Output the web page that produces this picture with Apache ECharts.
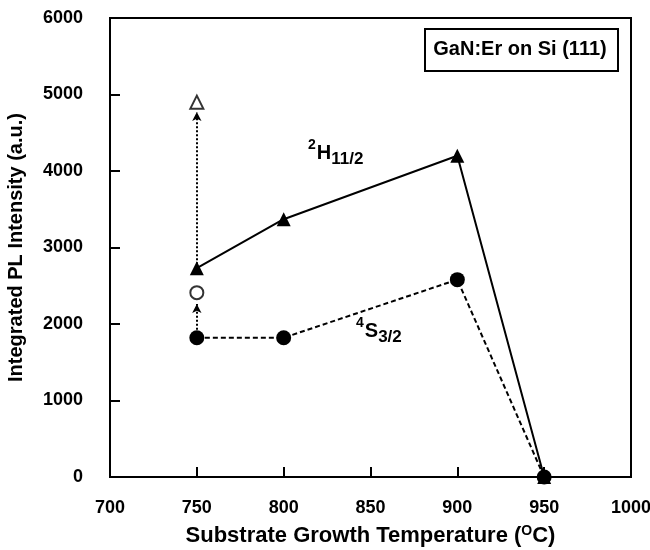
<!DOCTYPE html>
<html>
<head>
<meta charset="utf-8">
<script src="https://cdn.jsdelivr.net/npm/echarts@6/dist/echarts.min.js"></script>
<style>
  html, body { margin: 0; padding: 0; background: #fff; }
  #chart { width: 650px; height: 550px; }
</style>
</head>
<body>
<div id="chart"></div>
<script>
// temperatures (°C)
var temps = [750, 800, 900, 950];
// 2H11/2 integrated PL intensity
var h112 = [2730, 3370, 4200, 0];
// 4S3/2 integrated PL intensity
var s32 = [1820, 1820, 2580, 0];
// open symbols at 750 °C
var h112Open = [[750, 4900]];
var s32Open = [[750, 2410]];
var xTicks = [700, 750, 800, 850, 900, 950, 1000];
var yTicks = [0, 1000, 2000, 3000, 4000, 5000, 6000];

var font = "Liberation Sans, Arial, sans-serif";

function pairs(xs, ys) {
  return xs.map(function (x, i) { return [x, ys[i]]; });
}

// 上标/下标样式
function termRich() {
  return {
    sup: { fontFamily: font, fontWeight: "bold", fontSize: 14, fill: "#000", verticalAlign: "top", padding: [0, 1, 14, 0] },
    b: { fontFamily: font, fontWeight: "bold", fontSize: 20, fill: "#000" },
    sub: { fontFamily: font, fontWeight: "bold", fontSize: 17, fill: "#000", verticalAlign: "bottom", padding: [13, 0, 0, 0] }
  };
}

var myChart = echarts.init(document.getElementById("chart"));

myChart.setOption({
  animation: false,
  backgroundColor: "#fff",
  grid: {
    left: 110,
    right: 19,
    top: 18,
    bottom: 73,
    outerBoundsMode: "none",
    containLabel: false,
    show: true,
    borderColor: "#000",
    borderWidth: 2
  },
  xAxis: {
    type: "value",
    min: xTicks[0],
    max: xTicks[xTicks.length - 1],
    interval: 50,
    name: "{a|Substrate Growth Temperature (}{s|O}{a|C)}",
    nameLocation: "center",
    nameGap: 47,
    nameTextStyle: {
      rich: {
        a: { fontFamily: font, fontWeight: "bold", fontSize: 22, color: "#000" },
        s: { fontFamily: font, fontWeight: "bold", fontSize: 14, color: "#000", verticalAlign: "top", padding: [0, 0, 10, 0] }
      }
    },
    axisLine: { lineStyle: { color: "#000", width: 2 } },
    axisTick: { inside: true, length: 10, lineStyle: { color: "#000", width: 2 } },
    axisLabel: {
      color: "#000", fontFamily: font, fontWeight: "bold", fontSize: 18, margin: 22,
      formatter: function (v) { return String(v); }
    },
    splitLine: { show: false }
  },
  yAxis: {
    type: "value",
    min: yTicks[0],
    max: yTicks[yTicks.length - 1],
    interval: 1000,
    name: "Integrated PL Intensity (a.u.)",
    nameLocation: "center",
    nameGap: 84,
    nameTextStyle: { color: "#000", fontFamily: font, fontWeight: "bold", fontSize: 20 },
    axisLine: { lineStyle: { color: "#000", width: 2 } },
    axisTick: { inside: true, length: 10, lineStyle: { color: "#000", width: 2 } },
    axisLabel: {
      color: "#000", fontFamily: font, fontWeight: "bold", fontSize: 18, margin: 27,
      formatter: function (v) { return String(v); }
    },
    splitLine: { show: false }
  },
  series: [
    {
      name: "2H11/2",
      type: "line",
      data: pairs(temps, h112),
      symbol: "triangle",
      symbolSize: 14,
      itemStyle: { color: "#000" },
      lineStyle: { color: "#000", width: 2 },
      z: 3
    },
    {
      name: "4S3/2",
      type: "line",
      data: pairs(temps, s32),
      symbol: "circle",
      symbolSize: 15,
      itemStyle: { color: "#000" },
      lineStyle: { color: "#000", width: 2, type: [5, 3] },
      z: 4
    },
    {
      name: "arrows",
      type: "line",
      data: [],
      markLine: {
        silent: true,
        symbol: ["none", "arrow"],
        symbolSize: [7, 9],
        label: { show: false },
        lineStyle: { color: "#000", width: 2, type: [2, 2] },
        data: [
          [{ coord: [temps[0], h112[0]] }, { coord: [h112Open[0][0], h112Open[0][1] - 130] }],
          [{ coord: [temps[0], s32[0]] }, { coord: [s32Open[0][0], s32Open[0][1] - 150] }]
        ]
      },
      z: 2
    },
    {
      name: "2H11/2 open",
      type: "scatter",
      data: h112Open,
      symbol: "triangle",
      symbolSize: 13,
      itemStyle: { color: "#fff", borderColor: "#000", borderWidth: 2 },
      z: 5
    },
    {
      name: "4S3/2 open",
      type: "scatter",
      data: s32Open,
      symbol: "circle",
      symbolSize: 13,
      itemStyle: { color: "#fff", borderColor: "#000", borderWidth: 2 },
      z: 5
    }
  ],
  graphic: [
    {
      type: "rect",
      left: 424,
      top: 28,
      shape: { width: 193, height: 42 },
      style: { fill: "#fff", stroke: "#000", lineWidth: 2 },
      z: 10
    },
    {
      type: "text",
      x: 520,
      y: 49,
      style: { text: "GaN:Er on Si (111)", fill: "#000", font: "bold 20px " + font, align: "center", verticalAlign: "middle" },
      z: 11
    },
    {
      type: "text",
      left: 308,
      top: 138,
      style: { text: "{sup|2}{b|H}{sub|11/2}", rich: termRich() }
    },
    {
      type: "text",
      left: 356,
      top: 316,
      style: { text: "{sup|4}{b|S}{sub|3/2}", rich: termRich() }
    }
  ]
});
</script>
</body>
</html>
